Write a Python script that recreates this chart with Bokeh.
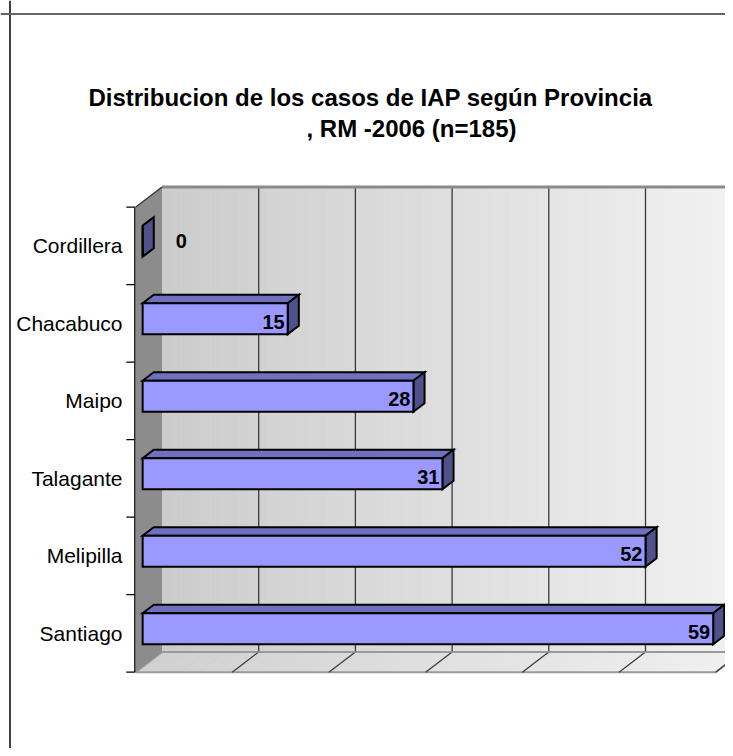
from bokeh.plotting import figure
from bokeh.models import Range1d, Span
from bokeh.core.properties import value
from bokeh.embed import file_html
from bokeh.resources import INLINE

# ---- data ----
categories = ["Santiago", "Melipilla", "Talagante", "Maipo", "Chacabuco", "Cordillera"]
counts = [59, 52, 31, 28, 15, 0]
value_ticks = [0, 10, 20, 30, 40, 50, 60]
title_line1 = "Distribucion de los casos de IAP según Provincia"
title_line2 = ", RM -2006 (n=185)"

# ---- pseudo-3D geometry (pixel scale of the picture) ----
K = 9.67          # px per value unit
B = 77.5          # px per category band
X0_PX = 135.0     # x of value 0 at the front plane
Y0_PX = 671.7     # y of the floor front edge
DXv = 26.5 / K    # depth shift in value units
DYc = 20.3 / B    # depth shift in category units
VMAX = value_ticks[-1]
NCAT = len(categories)

def P(v, c, d):
    return v + d * DXv, c + d * DYc

def xs_ys(pts):
    return [p[0] for p in pts], [p[1] for p in pts]

def px_to_x(px):
    return (px - X0_PX) / K

def py_to_y(py):
    return (Y0_PX - py) / B

W, H = 725, 748
p = figure(width=W, height=H, output_backend="svg", toolbar_location=None,
           x_range=Range1d(px_to_x(0), px_to_x(W)),
           y_range=Range1d(py_to_y(H), py_to_y(0)),
           x_axis_location=None, y_axis_location=None,
           min_border=0, min_border_left=0, min_border_right=0,
           min_border_top=0, min_border_bottom=0)
p.outline_line_color = None
p.grid.visible = False
p.background_fill_color = "white"
p.border_fill_color = "white"

def lerp_gray(t, a=0xcc, b=0xf2):
    g = int(round(a + (b - a) * t))
    return "#%02x%02x%02x" % (g, g, g)

# ---- back wall (gradient strips) ----
NS = 60
bx, by, bc = [], [], []
for s in range(NS):
    v0 = VMAX * s / NS
    v1 = VMAX * (s + 1) / NS + 0.05
    xs, ys = xs_ys([P(v0, 0, 1), P(v1, 0, 1), P(v1, NCAT, 1), P(v0, NCAT, 1)])
    bx.append(xs); by.append(ys); bc.append(lerp_gray(s / NS))
p.patches(bx, by, fill_color=bc, line_color=None)

# ---- floor (gradient strips) ----
fx, fy, fc = [], [], []
for s in range(NS):
    v0 = VMAX * s / NS
    v1 = VMAX * (s + 1) / NS + 0.05
    xs, ys = xs_ys([P(v0, 0, 0), P(v1, 0, 0), P(v1, 0, 1), P(v0, 0, 1)])
    fx.append(xs); fy.append(ys); fc.append(lerp_gray(s / NS, 0xd0, 0xf0))
p.patches(fx, fy, fill_color=fc, line_color=None)
xs, ys = xs_ys([P(0, 0, 0), P(VMAX, 0, 0), P(VMAX, 0, 1), P(0, 0, 1)])
p.patch(xs, ys, fill_color=None, line_color="#9a9a9a", line_width=2)

# ---- left wall ----
xs, ys = xs_ys([P(0, 0, 0), P(0, 0, 1), P(0, NCAT, 1), P(0, NCAT, 0)])
p.patch(xs, ys, fill_color="#8c8c8c", line_color=None)

# ---- gridlines on back wall and floor ----
gx0, gy0, gx1, gy1 = [], [], [], []
fx0, fy0, fx1, fy1 = [], [], [], []
for v in value_ticks[1:]:
    a = P(v, 0, 1); b = P(v, NCAT, 1)
    gx0.append(a[0]); gy0.append(a[1]); gx1.append(b[0]); gy1.append(b[1])
    a = P(v, 0, 0); b = P(v, 0, 1)
    fx0.append(a[0]); fy0.append(a[1]); fx1.append(b[0]); fy1.append(b[1])
p.segment(gx0, gy0, gx1, gy1, line_color="#3a3a3a", line_width=1.3)
p.segment(fx0, fy0, fx1, fy1, line_color="#3a3a3a", line_width=1.2)

# wall edges
a = P(0, NCAT, 1); b = P(VMAX + 2, NCAT, 1)
p.segment([a[0]], [a[1]], [b[0]], [b[1]], line_color="#8a8a8a", line_width=3)
a = P(0, 0, 1); b = P(VMAX, 0, 1)
p.segment([a[0]], [a[1]], [b[0]], [b[1]], line_color="#9a9a9a", line_width=1.5)
a = P(0, NCAT, 0); b = P(0, NCAT, 1)
p.segment([a[0]], [a[1]], [b[0]], [b[1]], line_color="#333333", line_width=1.3)

# category axis line and ticks (front-left edge)
a = P(0, 0, 0); b = P(0, NCAT, 0)
p.segment([a[0] - 0.07], [a[1]], [b[0] - 0.07], [b[1]], line_color="black", line_width=1.3)
tick_c = list(range(NCAT + 1))
p.segment([-0.95] * len(tick_c), tick_c, [-0.07] * len(tick_c), tick_c,
          line_color="black", line_width=1.3)

# ---- bars ----
D0, D1 = 0.27, 0.69
C0, C1 = 0.29, 0.69
front_x, front_y, top_x, top_y, side_x, side_y = [], [], [], [], [], []
for i, val in enumerate(counts):
    c0, c1 = i + C0, i + C1
    xs, ys = xs_ys([P(0, c1, D0), P(val, c1, D0), P(val, c1, D1), P(0, c1, D1)])
    top_x.append(xs); top_y.append(ys)
    xs, ys = xs_ys([P(val, c0, D0), P(val, c0, D1), P(val, c1, D1), P(val, c1, D0)])
    side_x.append(xs); side_y.append(ys)
    xs, ys = xs_ys([P(0, c0, D0), P(val, c0, D0), P(val, c1, D0), P(0, c1, D0)])
    front_x.append(xs); front_y.append(ys)
p.patches(top_x, top_y, fill_color="#7070c0", line_color="black", line_width=2, line_join="miter")
p.patches(side_x, side_y, fill_color="#50508a", line_color="black", line_width=2, line_join="miter")
p.patches(front_x, front_y, fill_color="#9999ff", line_color="black", line_width=2, line_join="miter")

# ---- data labels ----
in_x, in_y, in_t = [], [], []
out_x, out_y, out_t = [], [], []
for i, val in enumerate(counts):
    xe, yc = P(val, i + (C0 + C1) / 2, D0)
    if val > 3:
        in_x.append(xe); in_y.append(yc - 3 / B); in_t.append(str(val))
    else:
        out_x.append(xe); out_y.append(yc); out_t.append(str(val))
p.text(in_x, in_y, text=in_t, x_offset=-3, text_align="right", text_baseline="middle",
       text_font=value("Liberation Sans"), text_font_style="bold",
       text_font_size="20px", text_color="black")
p.text(out_x, out_y, text=out_t, x_offset=33, text_align="left", text_baseline="middle",
       text_font=value("Liberation Sans"), text_font_style="bold",
       text_font_size="20px", text_color="black")

# ---- category labels ----
p.text([0] * NCAT, [i + 0.5 for i in range(NCAT)], text=categories,
       x_offset=-13, text_align="right", text_baseline="middle",
       text_font=value("Liberation Sans"), text_font_size="21px", text_color="black")

# ---- title ----
p.text([px_to_x(370)], [py_to_y(97)], text=[title_line1], text_align="center",
       text_baseline="middle", text_font=value("Liberation Sans"), text_font_style="bold",
       text_font_size="24px", text_color="black")
p.text([px_to_x(411)], [py_to_y(128)], text=[title_line2], text_align="center",
       text_baseline="middle", text_font=value("Liberation Sans"), text_font_style="bold",
       text_font_size="24px", text_color="black")

# ---- chart border (left and top) ----
p.add_layout(Span(location=px_to_x(9.5), dimension="height", line_color="black", line_width=1.5))
p.add_layout(Span(location=py_to_y(13.5), dimension="width", line_color="#666666", line_width=2))

open("out.html", "w").write(file_html(p, INLINE))
